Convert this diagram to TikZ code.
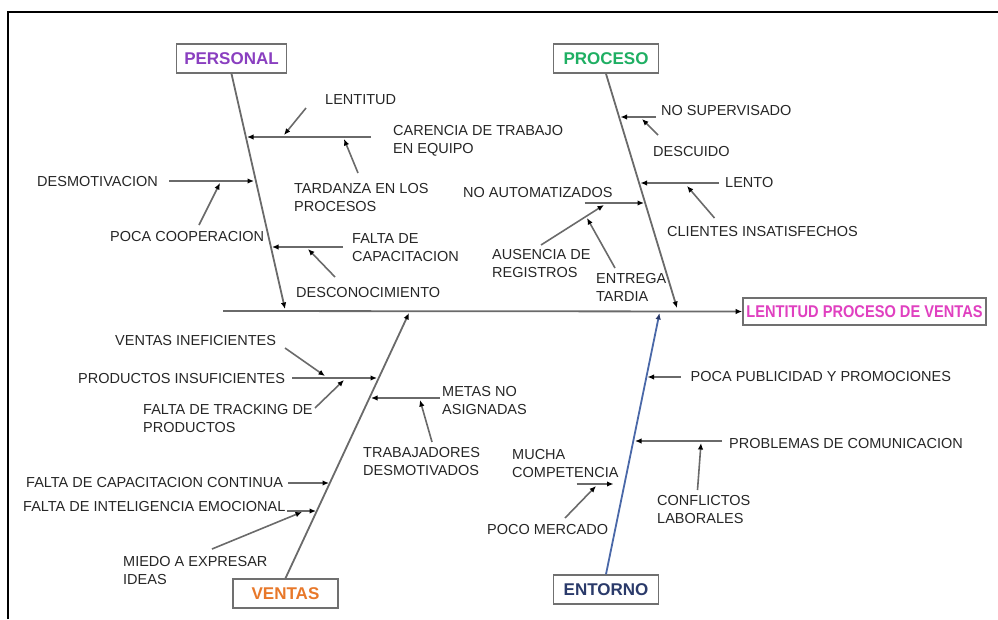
\documentclass[tikz,border=0pt]{standalone}
\usepackage{fontspec}
\setmainfont{Liberation Sans}
\usetikzlibrary{arrows.meta}
\definecolor{txt}{HTML}{262626}
\definecolor{linec}{HTML}{6A6A6A}
\definecolor{boxc}{HTML}{707070}
\definecolor{personalc}{HTML}{8A3FC0}
\definecolor{procesoc}{HTML}{1FAF63}
\definecolor{ventasc}{HTML}{E8782A}
\definecolor{entornoc}{HTML}{2A3A6A}
\definecolor{entornol}{HTML}{4A68A8}
\definecolor{efectoc}{HTML}{E040C0}
\tikzset{
  lbl/.style={font=\fontsize{14.5}{18}\selectfont, text=txt, inner sep=0pt, anchor=west, align=left},
  catbox/.style={draw=boxc, line width=1.6pt, fill=white, font=\fontsize{17}{20}\selectfont\bfseries,
                 minimum height=29pt, inner sep=0pt},
  bone/.style={draw=linec, line width=1.8pt, -{Latex[length=6.5pt,width=5.5pt,color=black]}},
  twig/.style={draw=linec, line width=1.6pt, -{Latex[length=6.5pt,width=5.5pt,color=black]}},
}
\begin{document}
\begin{tikzpicture}[x=1pt,y=-1pt]
\useasboundingbox (0,0) rectangle (998,619);
% outer frame
\draw[line width=2pt, black] (8,619) -- (8,12) -- (998,12);

% category boxes and effect
\node[catbox, minimum width=110pt, text=personalc] (personal) at (231.5,58.5) {PERSONAL};
\node[catbox, minimum width=105pt, text=procesoc] (proceso) at (606,58.5) {PROCESO};
\node[catbox, minimum width=105pt, text=ventasc] (ventas) at (285.5,593.5) {VENTAS};
\node[catbox, minimum width=105pt, text=entornoc] (entorno) at (606,589.5) {ENTORNO};
\node[catbox, minimum width=243pt, minimum height=27pt, text=efectoc] (efecto) at (864.5,311.5)
  {\scalebox{0.86}[1]{LENTITUD PROCESO DE VENTAS}};

% spine
\coordinate (spL) at (223,311);
\draw[bone] (spL) -- (efecto.west);

% main bones
\coordinate (pE) at (285,309);
\coordinate (prE) at (677,308);
\coordinate (vE) at (409,313);
\coordinate (eE) at (659.5,313);
\draw[bone] (personal.south) -- (pE);
\draw[bone] (proceso.south) -- (prE);
\draw[bone] (ventas.north) -- (vE);
\draw[draw=entornol, line width=1.8pt, -{Latex[length=6.5pt,width=5.5pt,color=entornoc]}] (entorno.north) -- (eE);

% ---------- PERSONAL ----------
\node[lbl] (lentitud) at (325,100) {LENTITUD};
\node[lbl] (carencia) at (393,141) {CARENCIA DE TRABAJO\\EN EQUIPO};
\node[lbl] (tardanza) at (294,198) {TARDANZA EN LOS\\PROCESOS};
\node[lbl] (desmot) at (37,182) {DESMOTIVACION};
\node[lbl] (pococoop) at (110,237) {POCA COOPERACION};
\node[lbl] (faltacap) at (352,248) {FALTA DE\\CAPACITACION};
\node[lbl] (desconoc) at (296,293) {DESCONOCIMIENTO};

\coordinate (c1a) at (371,137); \coordinate (c1b) at (247,137);
\draw[twig] (c1a) -- (c1b);
\coordinate (l1a) at (306,108); \coordinate (l1b) at (284,135);
\draw[twig] (l1a) -- (l1b);
\coordinate (t1a) at (358,173); \coordinate (t1b) at (344,139);
\draw[twig] (t1a) -- (t1b);
\coordinate (d1a) at (169,181); \coordinate (d1b) at (254,181);
\draw[twig] (d1a) -- (d1b);
\coordinate (pc1a) at (199,225); \coordinate (pc1b) at (220,183);
\draw[twig] (pc1a) -- (pc1b);
\coordinate (f1a) at (343,247); \coordinate (f1b) at (272,247);
\draw[twig] (f1a) -- (f1b);
\coordinate (dc1a) at (335,277); \coordinate (dc1b) at (308,249);
\draw[twig] (dc1a) -- (dc1b);

% ---------- PROCESO ----------
\node[lbl] (nosuperv) at (661,111) {NO SUPERVISADO};
\node[lbl] (descuido) at (653,152) {DESCUIDO};
\node[lbl] (lento) at (725,183) {LENTO};
\node[lbl] (clientes) at (667,232) {CLIENTES INSATISFECHOS};
\node[lbl] (noauto) at (463,193) {NO AUTOMATIZADOS};
\node[lbl] (ausencia) at (492,263.5) {AUSENCIA DE\\REGISTROS};
\node[lbl] (entrega) at (596,287) {ENTREGA\\TARDIA};

\coordinate (ns1a) at (656,117); \coordinate (ns1b) at (620.5,117);
\draw[twig] (ns1a) -- (ns1b);
\coordinate (de1a) at (658,135); \coordinate (de1b) at (642,119);
\draw[twig] (de1a) -- (de1b);
\coordinate (le1a) at (719,183); \coordinate (le1b) at (640.5,183);
\draw[twig] (le1a) -- (le1b);
\coordinate (cl1a) at (714.5,218); \coordinate (cl1b) at (687,186);
\draw[twig] (cl1a) -- (cl1b);
\coordinate (na1a) at (584.5,203); \coordinate (na1b) at (644,203);
\draw[twig] (na1a) -- (na1b);
\coordinate (au1a) at (541,245); \coordinate (au1b) at (604,205);
\draw[twig] (au1a) -- (au1b);
\coordinate (en1a) at (615,268); \coordinate (en1b) at (587,218);
\draw[twig] (en1a) -- (en1b);

% ---------- VENTAS ----------
\node[lbl] (ventinef) at (115,341) {VENTAS INEFICIENTES};
\node[lbl] (prodins) at (78,378) {PRODUCTOS INSUFICIENTES};
\node[lbl] (tracking) at (143,418.5) {FALTA DE TRACKING DE\\PRODUCTOS};
\node[lbl] (metas) at (442,400) {METAS NO\\ASIGNADAS};
\node[lbl] (trabaj) at (363,461.5) {TRABAJADORES\\DESMOTIVADOS};
\node[lbl] (capcont) at (26,482) {FALTA DE CAPACITACION CONTINUA};
\node[lbl] (intemo) at (23,506) {FALTA DE INTELIGENCIA EMOCIONAL};
\node[lbl] (miedo) at (123,570) {MIEDO A EXPRESAR\\IDEAS};

\coordinate (pi1a) at (292,378); \coordinate (pi1b) at (377,378);
\draw[twig] (pi1a) -- (pi1b);
\coordinate (vi1a) at (285,348); \coordinate (vi1b) at (325,376);
\draw[twig] (vi1a) -- (vi1b);
\coordinate (tr1a) at (315,408); \coordinate (tr1b) at (344,380);
\draw[twig] (tr1a) -- (tr1b);
\coordinate (me1a) at (440,398); \coordinate (me1b) at (371,398);
\draw[twig] (me1a) -- (me1b);
\coordinate (tb1a) at (432,442); \coordinate (tb1b) at (420,400);
\draw[twig] (tb1a) -- (tb1b);
\coordinate (cc1a) at (288,483); \coordinate (cc1b) at (329,483);
\draw[twig] (cc1a) -- (cc1b);
\coordinate (ie1a) at (287,511); \coordinate (ie1b) at (316,511);
\draw[twig] (ie1a) -- (ie1b);
\coordinate (mi1a) at (212,549); \coordinate (mi1b) at (302,512);
\draw[twig] (mi1a) -- (mi1b);

% ---------- ENTORNO ----------
\node[lbl] (publi) at (690.5,377) {POCA PUBLICIDAD Y PROMOCIONES};
\node[lbl] (comunic) at (729,443) {PROBLEMAS DE COMUNICACION};
\node[lbl] (conflic) at (657,509) {CONFLICTOS\\LABORALES};
\node[lbl] (compet) at (512,463) {MUCHA\\COMPETENCIA};
\node[lbl] (mercado) at (487,529) {POCO MERCADO};

\coordinate (pu1a) at (680.5,377); \coordinate (pu1b) at (647.5,377);
\draw[twig] (pu1a) -- (pu1b);
\coordinate (co1a) at (722,441); \coordinate (co1b) at (635,441);
\draw[twig] (co1a) -- (co1b);
\coordinate (cf1a) at (697.5,490); \coordinate (cf1b) at (701,443);
\draw[twig] (cf1a) -- (cf1b);
\coordinate (mc1a) at (576.5,484); \coordinate (mc1b) at (613.5,484);
\draw[twig] (mc1a) -- (mc1b);
\coordinate (pm1a) at (565,518); \coordinate (pm1b) at (596,486);
\draw[twig] (pm1a) -- (pm1b);
\end{tikzpicture}
\end{document}
